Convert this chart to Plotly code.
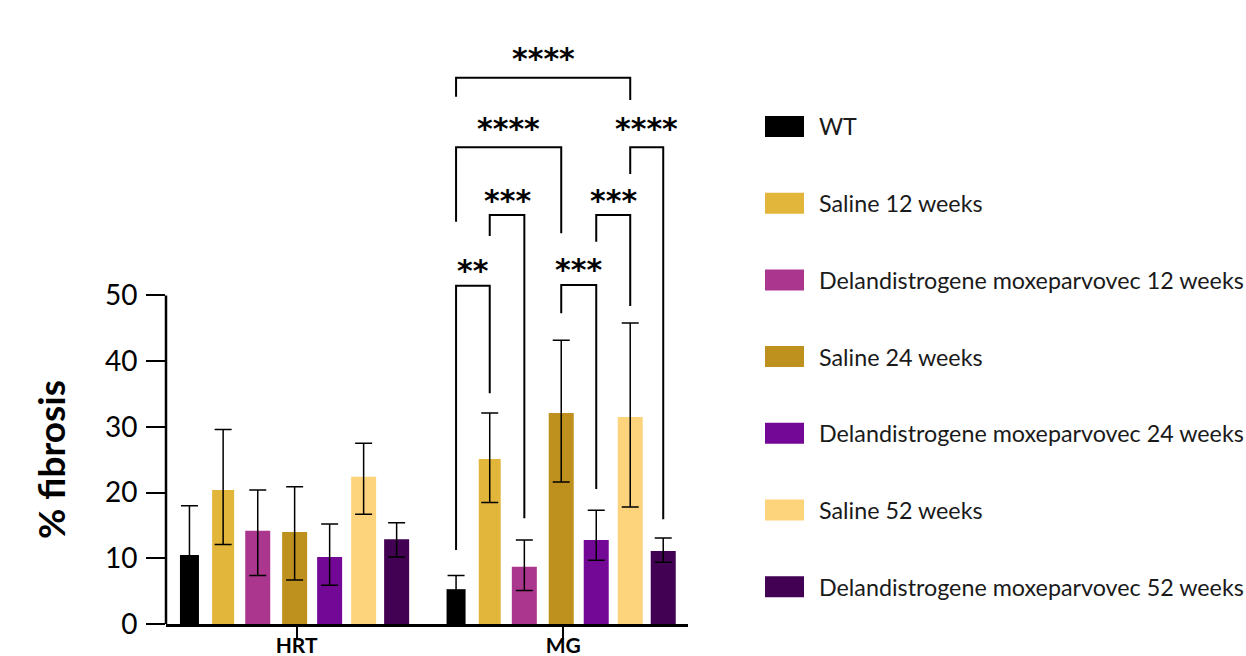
import plotly.graph_objects as go

# ---- data -------------------------------------------------------------
groups = ["HRT", "MG"]
series = [
    "WT",
    "Saline 12 weeks",
    "Delandistrogene moxeparvovec 12 weeks",
    "Saline 24 weeks",
    "Delandistrogene moxeparvovec 24 weeks",
    "Saline 52 weeks",
    "Delandistrogene moxeparvovec 52 weeks",
]

# mean % fibrosis and error-bar limits, one entry per series
hrt_mean = [10.5, 20.4, 14.2, 14.0, 10.2, 22.4, 12.9]
hrt_upper = [18.0, 29.6, 20.4, 20.9, 15.2, 27.5, 15.4]
hrt_lower = [6.4, 12.1, 7.4, 6.7, 5.9, 16.7, 10.2]

mg_mean = [5.3, 25.1, 8.7, 32.1, 12.8, 31.5, 11.1]
mg_upper = [7.4, 32.1, 12.8, 43.2, 17.3, 45.8, 13.1]
mg_lower = [3.2, 18.5, 5.1, 21.6, 9.7, 17.8, 9.4]

# MG pairwise comparisons: (series a, series b, significance)
comparisons = [
    (0, 5, "****"),
    (0, 3, "****"),
    (5, 6, "****"),
    (1, 2, "***"),
    (4, 5, "***"),
    (0, 1, "**"),
    (3, 4, "***"),
]

y_ticks = [0, 10, 20, 30, 40, 50]

# ---- styling ----------------------------------------------------------
colors = ["#000000", "#E2B53B", "#AB368E", "#BE901E", "#740896", "#FDD37C", "#420153"]

W, H = 1246, 656
ML, MR, MT, MB = 166, 558, 30, 32
Y_MAX = 90.4
X_RANGE = [-0.49, 1.468]

# bar slot centre / width relative to each group tick (category units)
slot_center = [-0.402, -0.2757, -0.1459, -0.0075, 0.1238, 0.2513, 0.3751]
slot_width = [0.0713, 0.0825, 0.0938, 0.0938, 0.0938, 0.0938, 0.0938]

# bracket geometry: (crossbar level, left leg end, right leg end, label lift in px)
bracket_levels = [
    (83.15, 80.26, 79.76, 19),
    (72.56, 61.23, 59.47, 19),
    (72.56, 68.49, 15.94, 19),
    (62.25, 59.06, 16.09, 14),
    (62.25, 58.19, 48.40, 14),
    (51.49, 11.26, 35.11, 15),
    (51.60, 47.29, 20.55, 15),
]

FONT = "Lato"
plot_w = W - ML - MR
plot_h = H - MT - MB


def px_to_paper_x(px):
    return (px - ML) / plot_w


def px_to_paper_y(py):
    return (H - MB - py) / plot_h


fig = go.Figure()

for k, name in enumerate(series):
    means = [hrt_mean[k], mg_mean[k]]
    upper = [hrt_upper[k], mg_upper[k]]
    lower = [hrt_lower[k], mg_lower[k]]
    fig.add_trace(
        go.Bar(
            x=[g + slot_center[k] for g in range(len(groups))],
            y=means,
            width=slot_width[k],
            name=name,
            marker=dict(color=colors[k], line=dict(width=0)),
            error_y=dict(
                type="data",
                symmetric=False,
                array=[u - m for u, m in zip(upper, means)],
                arrayminus=[m - lo for m, lo in zip(means, lower)],
                color="black",
                thickness=1.5,
                width=8.5,
            ),
            showlegend=False,
        )
    )

shapes = []
annotations = []

# y axis spine only spans the tick range
shapes.append(
    dict(type="line", xref="paper", yref="y", x0=0, x1=0, y0=0, y1=y_ticks[-1],
         line=dict(color="black", width=2.5))
)

# significance brackets over the MG group
mg_index = groups.index("MG")
for (a, b, stars), (level, end_a, end_b, lift) in zip(comparisons, bracket_levels):
    xa = mg_index + slot_center[a]
    xb = mg_index + slot_center[b]
    shapes.append(
        dict(type="path", xref="x", yref="y",
             path=f"M {xa},{end_a} L {xa},{level} L {xb},{level} L {xb},{end_b}",
             line=dict(color="black", width=2))
    )
    annotations.append(
        dict(x=(xa + xb) / 2, y=level, xref="x", yref="y", text=f"<b>{stars}</b>",
             showarrow=False, xanchor="center", yanchor="middle", yshift=lift,
             font=dict(family="DejaVu Sans", size=30, color="black"))
    )

# legend drawn as swatches + labels
legend_y0 = 126.5
legend_step = 76.7
for k, name in enumerate(series):
    cy = legend_y0 + k * legend_step
    shapes.append(
        dict(type="rect", xref="paper", yref="paper",
             x0=px_to_paper_x(765), x1=px_to_paper_x(804),
             y0=px_to_paper_y(cy + 10.5), y1=px_to_paper_y(cy - 10.5),
             fillcolor=colors[k], line=dict(width=0))
    )
    annotations.append(
        dict(x=px_to_paper_x(817), y=px_to_paper_y(cy), xref="paper", yref="paper",
             text=name, showarrow=False, xanchor="left", yanchor="middle",
             font=dict(family=FONT, size=23.3, color="#1a1a1a"))
    )

# y axis title
annotations.append(
    dict(x=px_to_paper_x(51), y=px_to_paper_y(460), xref="paper", yref="paper",
         text="<b>% fibrosis</b>", textangle=-90, showarrow=False,
         xanchor="center", yanchor="middle",
         font=dict(family=FONT, size=37, color="black"))
)

fig.update_layout(
    width=W,
    height=H,
    margin=dict(l=ML, r=MR, t=MT, b=MB, autoexpand=False),
    paper_bgcolor="white",
    plot_bgcolor="white",
    barmode="overlay",
    showlegend=False,
    shapes=shapes,
    annotations=annotations,
    font=dict(family=FONT, color="black"),
    xaxis=dict(
        automargin=False,
        range=X_RANGE,
        tickvals=list(range(len(groups))),
        ticktext=[f"<b>{g}</b>" for g in groups],
        ticks="outside",
        ticklen=13,
        tickwidth=2,
        tickcolor="black",
        tickfont=dict(family=FONT, size=21, color="black"),
        ticklabelstandoff=-12,
        showline=True,
        linecolor="black",
        linewidth=2.5,
        showgrid=False,
        zeroline=False,
    ),
    yaxis=dict(
        automargin=False,
        range=[0, Y_MAX],
        tickvals=y_ticks,
        ticks="outside",
        ticklen=19,
        tickwidth=1.5,
        tickcolor="black",
        tickfont=dict(family=FONT, size=28, color="black"),
        ticklabelstandoff=3,
        showline=False,
        showgrid=False,
        zeroline=False,
    ),
)

fig.write_html("out.html")
